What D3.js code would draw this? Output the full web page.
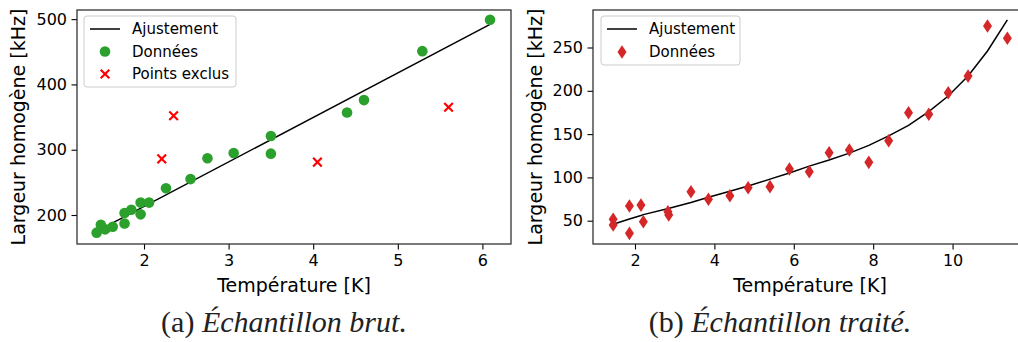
<!DOCTYPE html>
<html>
<head>
<meta charset="utf-8">
<script src="https://cdn.jsdelivr.net/npm/d3@7"></script>
<style>
  html, body { margin: 0; padding: 0; background: #fff; }
  svg { display: block; }
</style>
</head>
<body>
<svg id="chart" width="1018" height="342"></svg>
<script>
// ---------- Data: panel (a) Échantillon brut ----------
const rawTemp   = [1.44, 1.49, 1.54, 1.63, 1.77, 1.77, 1.85, 1.96, 1.96, 2.06, 2.26, 2.55, 2.75, 3.06, 3.50, 3.50, 4.40, 4.60, 5.29, 6.09];
const rawWidth  = [173, 185, 178, 182, 203, 187, 208, 219, 201, 219, 241, 255, 287, 295, 321, 294, 357, 376, 451, 499];
const exclTemp  = [2.21, 2.35, 4.05, 5.60];
const exclWidth = [286, 352, 281, 365];
const fitRawTemp  = [1.44, 6.09];
const fitRawWidth = [175, 492];

// ---------- Data: panel (b) Échantillon traité ----------
const trTemp  = [1.45, 1.45, 1.86, 1.86, 2.15, 2.21, 2.83, 2.85, 3.41, 3.85, 4.39, 4.85, 5.40, 5.89, 6.39, 6.89, 7.40, 7.89, 8.39, 8.89, 9.40, 9.89, 10.39, 10.88, 11.38];
const trWidth = [51.6, 45, 67, 35.4, 68, 48.8, 60.4, 56.6, 83.5, 74.7, 78.9, 88, 89.3, 109.7, 106.6, 128.5, 131.6, 117.4, 142.4, 174.7, 172.9, 197.8, 217, 274.8, 260.6];
const fitTrTemp  = [1.45, 1.86, 2.15, 2.21, 2.84, 3.41, 3.85, 4.39, 4.85, 5.40, 5.89, 6.39, 6.89, 7.40, 7.89, 8.39, 8.89, 9.40, 9.89, 10.39, 10.88, 11.38];
const fitTrWidth = [46, 52, 56, 57, 64, 71, 77, 84, 90, 98, 105, 113, 120, 128, 137, 148, 160, 176, 194, 217, 246, 282];

// ---------- Ticks / labels ----------
const ticksAX = [2, 3, 4, 5, 6];
const ticksAY = [200, 300, 400, 500];
const ticksBX = [2, 4, 6, 8, 10];
const ticksBY = [50, 100, 150, 200, 250];
const xLabel = "Température [K]";
const yLabel = "Largeur homogène [kHz]";
const legendA = ["Ajustement", "Données", "Points exclus"];
const legendB = ["Ajustement", "Données"];
const captionA = ["(a) ", "Échantillon brut."];
const captionB = ["(b) ", "Échantillon traité."];

const svg = d3.select("#chart");
const FONT = "DejaVu Sans, sans-serif";
const GREEN = "#2ca02c", RED = "#ff0000", DRED = "#d62728";

function panel(cfg) {
  const g = svg.append("g");
  const x = d3.scaleLinear().domain(cfg.xd).range([cfg.left, cfg.right]);
  const y = d3.scaleLinear().domain(cfg.yd).range([cfg.bottom, cfg.top]);

  // axes
  const xa = g.append("g").attr("transform", `translate(0,${cfg.bottom})`)
    .call(d3.axisBottom(x).tickValues(cfg.xt).tickFormat(d3.format("d")).tickSize(5.5).tickPadding(5.5));
  const ya = g.append("g").attr("transform", `translate(${cfg.left},0)`)
    .call(d3.axisLeft(y).tickValues(cfg.yt).tickFormat(d3.format("d")).tickSize(5.5).tickPadding(4.5));
  [xa, ya].forEach(a => {
    a.select(".domain").remove();
    a.selectAll("line").attr("stroke", "#000").attr("stroke-width", 1.1);
    a.selectAll("text").attr("font-family", FONT).attr("font-size", 16).attr("fill", "#000");
  });

  // frame
  g.append("rect").attr("x", cfg.left).attr("y", cfg.top)
    .attr("width", cfg.right - cfg.left).attr("height", cfg.bottom - cfg.top)
    .attr("fill", "none").attr("stroke", "#222").attr("stroke-width", 1.2);

  // axis labels
  g.append("text").attr("x", cfg.xlabX).attr("y", 292)
    .attr("text-anchor", "middle").attr("font-family", FONT).attr("font-size", 19).text(xLabel);
  g.append("text").attr("transform", `translate(${cfg.ylabX},${(cfg.top + cfg.bottom) / 2}) rotate(-90)`)
    .attr("text-anchor", "middle").attr("font-family", FONT).attr("font-size", 19).text(yLabel);

  // caption
  const cap = g.append("text").attr("x", cfg.capX).attr("y", 332).attr("text-anchor", "middle")
    .attr("font-family", "Liberation Serif, serif").attr("font-size", 30).attr("fill", "#222");
  cap.append("tspan").text(cfg.caption[0]);
  cap.append("tspan").attr("font-style", "italic").text(cfg.caption[1]);

  return {g, x, y};
}

function xMark(sel, cx, cy, s, color) {
  sel.append("path")
    .attr("d", `M${cx - s},${cy - s}L${cx + s},${cy + s}M${cx - s},${cy + s}L${cx + s},${cy - s}`)
    .attr("stroke", color).attr("stroke-width", 2.2).attr("fill", "none");
}
function diamond(sel, cx, cy, w, h, color) {
  sel.append("path")
    .attr("d", `M${cx},${cy - h}L${cx + w},${cy}L${cx},${cy + h}L${cx - w},${cy}Z`)
    .attr("fill", color);
}

// ---------- Panel A ----------
const A = panel({
  left: 77, right: 511, top: 10, bottom: 244,
  xd: [1.208, 6.338], yd: [155.6, 514],
  xt: ticksAX, yt: ticksAY, xlabX: 294, ylabX: 25, capX: 284, caption: captionA
});
const lineA = d3.line().x(d => A.x(d[0])).y(d => A.y(d[1]));
A.g.append("path").datum(d3.zip(fitRawTemp, fitRawWidth)).attr("d", lineA)
  .attr("fill", "none").attr("stroke", "#000").attr("stroke-width", 1.5);
A.g.selectAll("circle.pt").data(d3.zip(rawTemp, rawWidth)).join("circle")
  .attr("cx", d => A.x(d[0])).attr("cy", d => A.y(d[1])).attr("r", 5.3).attr("fill", GREEN);
d3.zip(exclTemp, exclWidth).forEach(d => xMark(A.g, A.x(d[0]), A.y(d[1]), 4.3, RED));

// legend A
const lgA = A.g.append("g");
lgA.append("rect").attr("x", 84).attr("y", 16).attr("width", 152).attr("height", 71).attr("rx", 3)
  .attr("fill", "#fff").attr("fill-opacity", 0.8).attr("stroke", "#ccc").attr("stroke-width", 1);
lgA.append("line").attr("x1", 90).attr("x2", 120).attr("y1", 29).attr("y2", 29).attr("stroke", "#000").attr("stroke-width", 1.5);
lgA.append("circle").attr("cx", 105).attr("cy", 51.5).attr("r", 5.3).attr("fill", GREEN);
xMark(lgA, 105, 74, 4.3, RED);
legendA.forEach((t, i) => lgA.append("text").attr("x", 132).attr("y", [29, 51.5, 74][i]).attr("dy", "0.35em")
  .attr("font-family", FONT).attr("font-size", 15).text(t));

// ---------- Panel B ----------
const B = panel({
  left: 593, right: 1028, top: 10, bottom: 244,
  xd: [0.942, 11.9], yd: [23.1, 293.3],
  xt: ticksBX, yt: ticksBY, xlabX: 810, ylabX: 542, capX: 780, caption: captionB
});
const lineB = d3.line().x(d => B.x(d[0])).y(d => B.y(d[1]));
B.g.append("path").datum(d3.zip(fitTrTemp, fitTrWidth)).attr("d", lineB)
  .attr("fill", "none").attr("stroke", "#000").attr("stroke-width", 1.5);
d3.zip(trTemp, trWidth).forEach(d => diamond(B.g, B.x(d[0]), B.y(d[1]), 4.5, 6.8, DRED));

// legend B
const lgB = B.g.append("g");
lgB.append("rect").attr("x", 601).attr("y", 16).attr("width", 139).attr("height", 49).attr("rx", 3)
  .attr("fill", "#fff").attr("fill-opacity", 0.8).attr("stroke", "#ccc").attr("stroke-width", 1);
lgB.append("line").attr("x1", 607).attr("x2", 637).attr("y1", 29).attr("y2", 29).attr("stroke", "#000").attr("stroke-width", 1.5);
diamond(lgB, 622, 52, 4.5, 6.8, DRED);
legendB.forEach((t, i) => lgB.append("text").attr("x", 649).attr("y", [29, 52][i]).attr("dy", "0.35em")
  .attr("font-family", FONT).attr("font-size", 15).text(t));
</script>
</body>
</html>
